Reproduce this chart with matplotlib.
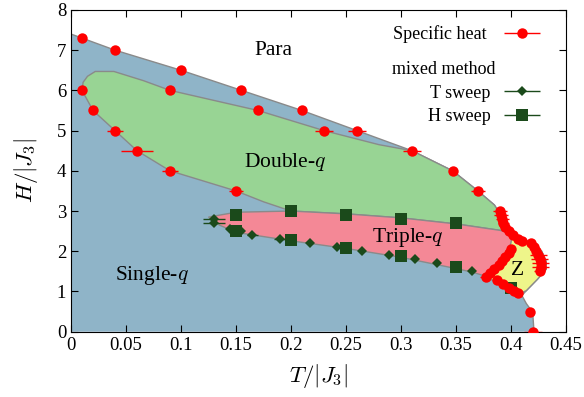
import matplotlib
matplotlib.use("Agg")
import matplotlib.pyplot as plt
import numpy as np
from matplotlib.container import ErrorbarContainer
from matplotlib.legend_handler import HandlerErrorbar

plt.rcParams["font.family"] = ["Liberation Serif", "DejaVu Serif"]
plt.rcParams["mathtext.fontset"] = "cm"

# specific heat peaks: T, H, T error
heat_T = [0.01, 0.04, 0.1, 0.155, 0.21, 0.26, 0.31, 0.347, 0.37,
          0.01, 0.09, 0.17, 0.23,
          0.02, 0.04, 0.06, 0.09, 0.15,
          0.390, 0.391, 0.392, 0.393, 0.395, 0.398, 0.402, 0.406, 0.41,
          0.418, 0.421, 0.423, 0.425, 0.426, 0.427, 0.427, 0.426,
          0.377, 0.381, 0.385, 0.389, 0.392, 0.395, 0.398, 0.40,
          0.387, 0.393, 0.398, 0.403, 0.406,
          0.417, 0.42]
heat_H = [7.3, 7.0, 6.5, 6.0, 5.5, 5.0, 4.5, 4.0, 3.5,
          6.0, 6.0, 5.5, 5.0,
          5.5, 5.0, 4.5, 4.0, 3.5,
          3.0, 2.9, 2.8, 2.7, 2.6, 2.5, 2.4, 2.3, 2.25,
          2.2, 2.1, 2.0, 1.9, 1.8, 1.7, 1.6, 1.5,
          1.35, 1.45, 1.55, 1.65, 1.75, 1.85, 1.95, 2.05,
          1.28, 1.18, 1.08, 1.0, 0.95,
          0.5, 0.0]
heat_err = [0, 0, 0, 0, 0, 0.008, 0.008, 0, 0.006,
            0, 0, 0, 0.008,
            0, 0.0075, 0.015, 0.0075, 0.006,
            0.006, 0.006, 0.006, 0.005, 0.005, 0, 0, 0, 0,
            0, 0, 0, 0.008, 0.008, 0.008, 0.008, 0.005,
            0.005, 0.004, 0.004, 0.004, 0, 0, 0, 0,
            0, 0, 0, 0, 0,
            0, 0.008]

# mixed method, T sweep
tsweep_T = [0.13, 0.13, 0.145, 0.155, 0.165, 0.19, 0.217, 0.242, 0.265,
            0.289, 0.313, 0.333, 0.365]
tsweep_H = [2.8, 2.7, 2.55, 2.5, 2.4, 2.3, 2.2, 2.1, 2.0, 1.9, 1.8, 1.7, 1.5]
tsweep_err = [0.01, 0.01, 0.004, 0, 0.005, 0.005, 0, 0, 0, 0, 0, 0, 0]

# mixed method, H sweep
hsweep_T = [0.15, 0.15, 0.2, 0.2, 0.25, 0.25, 0.3, 0.3, 0.35, 0.35, 0.4]
hsweep_H = [2.9, 2.5, 3.0, 2.27, 2.9, 2.08, 2.8, 1.88, 2.7, 1.6, 1.08]

# phase boundaries
para_T = [0.0, 0.01, 0.04, 0.1, 0.155, 0.21, 0.26, 0.31, 0.347, 0.37, 0.385,
          0.393, 0.40, 0.41, 0.42, 0.428, 0.432, 0.432, 0.424, 0.414, 0.41,
          0.414, 0.418, 0.42, 0.421]
para_H = [7.4, 7.3, 7.0, 6.5, 6.0, 5.5, 5.0, 4.5, 4.0, 3.5, 3.15,
          2.8, 2.45, 2.3, 2.2, 2.0, 1.75, 1.55, 1.3, 1.02, 0.9,
          0.7, 0.55, 0.4, 0.0]

double_T = [0.01, 0.011, 0.015, 0.022, 0.039, 0.066, 0.09, 0.17, 0.23, 0.28,
            0.31, 0.347, 0.37, 0.385, 0.393, 0.40, 0.39, 0.35, 0.3, 0.25,
            0.2, 0.175, 0.15, 0.09, 0.06, 0.04, 0.02]
double_H = [6.0, 6.2, 6.35, 6.47, 6.47, 6.24, 6.0, 5.5, 5.0, 4.65,
            4.5, 4.0, 3.5, 3.15, 2.8, 2.45, 2.52, 2.68, 2.83, 2.93,
            3.0, 3.23, 3.5, 4.0, 4.5, 5.0, 5.5]

triple_T = [0.125, 0.15, 0.2, 0.25, 0.3, 0.35, 0.39, 0.40, 0.401, 0.397,
            0.39, 0.383, 0.377, 0.365, 0.35, 0.3, 0.25, 0.2, 0.15, 0.135]
triple_H = [2.85, 2.97, 3.0, 2.93, 2.83, 2.68, 2.52, 2.45, 2.2, 1.95,
            1.7, 1.5, 1.38, 1.48, 1.57, 1.85, 2.07, 2.26, 2.47, 2.65]

z_T = [0.401, 0.41, 0.42, 0.428, 0.432, 0.432, 0.424, 0.414, 0.408,
       0.40, 0.392, 0.383, 0.377, 0.383, 0.39, 0.396, 0.40]
z_H = [2.4, 2.3, 2.2, 2.0, 1.75, 1.55, 1.3, 1.02, 0.95,
       1.02, 1.15, 1.28, 1.38, 1.55, 1.72, 1.95, 2.2]

BLUE = "#8fb4c8"
GREEN = "#98d494"
PINK = "#f48896"
YELLOW = "#eef58a"
EDGE = "#8a8a8a"
RED = "#ff0000"
DARK = "#1b4a1b"

fig = plt.figure(figsize=(5.84, 3.97), dpi=100)
ax = fig.add_axes([0.1216, 0.1645, 0.969 - 0.1216, 0.975 - 0.1645])

ax.fill(np.r_[para_T, 0.0], np.r_[para_H, 0.0], color=BLUE, lw=0, zorder=1)
ax.plot(para_T, para_H, color=EDGE, lw=1, zorder=2)
ax.fill(double_T, double_H, facecolor=GREEN, edgecolor=EDGE, lw=1, zorder=2)
ax.fill(triple_T, triple_H, facecolor=PINK, edgecolor=EDGE, lw=1, zorder=2)
ax.fill(z_T, z_H, facecolor=YELLOW, edgecolor=EDGE, lw=1, zorder=2)

labels = [("Para", 0.184, 7.0), ("Double-$q$", 0.195, 4.22),
          ("Triple-$q$", 0.306, 2.33), ("Single-$q$", 0.074, 1.39),
          ("Z", 0.406, 1.53)]
for text, tx, ty in labels:
    ax.text(tx, ty, text, fontsize=15.5, ha="center", va="center", zorder=6)

h_heat = ax.errorbar(heat_T, heat_H, xerr=heat_err, fmt="o", color=RED,
                     ms=7.5, mew=0, elinewidth=1, capsize=2, zorder=5)
h_t = ax.errorbar(tsweep_T, tsweep_H, xerr=tsweep_err, fmt="D", color=DARK,
                  ms=5, mew=0, elinewidth=1, capsize=2, zorder=4)
h_h = ax.errorbar(hsweep_T, hsweep_H, xerr=[0] * len(hsweep_T), fmt="s",
                  color=DARK, ms=8, mew=0, elinewidth=1, capsize=2, zorder=4)

hmap = {ErrorbarContainer: HandlerErrorbar(xerr_size=1.0)}
leg1 = ax.legend([h_heat], ["Specific heat"], loc="upper right",
                 bbox_to_anchor=(0.964, 0.975), frameon=False, fontsize=13,
                 markerfirst=False, handlelength=2.1, handletextpad=0.9,
                 borderaxespad=0, handler_map=hmap)
ax.add_artist(leg1)
ax.legend([h_t, h_h], ["T sweep", "H sweep"], loc="upper right",
          bbox_to_anchor=(0.964, 0.79), frameon=False, fontsize=13,
          markerfirst=False, handlelength=2.1, handletextpad=0.7,
          borderaxespad=0, labelspacing=0.35, handler_map=hmap)
ax.text(0.648, 0.816, "mixed method", transform=ax.transAxes, fontsize=13,
        ha="left", va="center")

ax.set_xlim(0, 0.45)
ax.set_ylim(0, 8)
ax.set_xticks(np.arange(0, 0.451, 0.05))
ax.set_xticklabels(["0", "0.05", "0.1", "0.15", "0.2", "0.25", "0.3",
                    "0.35", "0.4", "0.45"])
ax.set_yticks(range(9))
ax.tick_params(direction="in", top=True, right=True, labelsize=13.5, length=5)
ax.set_xlabel("$T/|J_3|$", fontsize=16.5, labelpad=6)
ax.set_ylabel("$H/|J_3|$", fontsize=16.5, labelpad=12)

fig.savefig("out.png", dpi=100)
